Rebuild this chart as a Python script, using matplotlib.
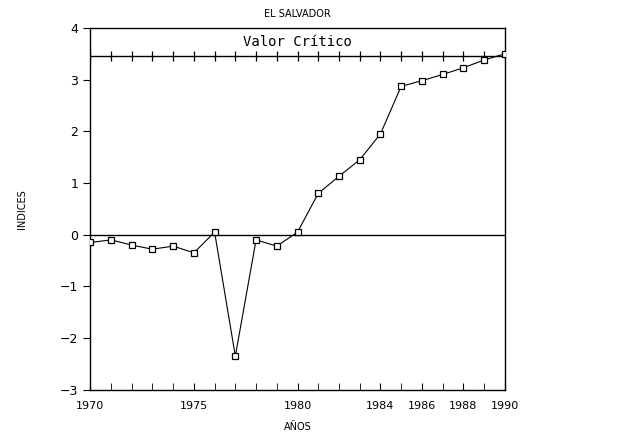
import matplotlib.pyplot as plt
import numpy as np

years = np.arange(1970, 1991)
indices = [-0.15, -0.1, -0.2, -0.28, -0.22, -0.35, 0.05, -2.35, -0.1, -0.22,
           0.05, 0.8, 1.13, 1.45, 1.95, 2.87, 2.98, 3.1, 3.23, 3.38, 3.5]
valor_critico = 3.45
xlabels = [1970, 1975, 1980, 1984, 1986, 1988, 1990]

fig = plt.figure(figsize=(6.31, 4.37), dpi=100)
ax = fig.add_axes([0.143, 0.108, 0.657, 0.828])

ax.plot(years, indices, color='black', lw=0.8, marker='s', ms=4.5,
        mfc='white', mec='black', mew=0.9, zorder=3)
ax.axhline(0, color='black', lw=1.0)
ax.axhline(valor_critico, color='black', lw=1.0)
# marcas sobre la linea del valor critico
ax.plot(years, [valor_critico] * len(years), ls='none', marker='|', ms=7,
        color='black', mew=0.9)
ax.text(1980, 3.72, 'Valor Crítico', family='DejaVu Sans Mono', fontsize=10,
        ha='center', va='center')

ax.set_xlim(1970, 1990)
ax.set_ylim(-3, 4)
ax.set_xticks(years, minor=True)
ax.set_xticks(xlabels)
ax.set_xticklabels([str(v) for v in xlabels], fontsize=8)
ax.set_yticks(range(-3, 5))
ax.set_yticklabels(['\u22123', '\u22122', '\u22121', '0', '1', '2', '3', '4'], fontsize=9)
ax.tick_params(axis='x', which='both', direction='in', length=5, pad=8)
ax.tick_params(axis='y', direction='out', length=5)
for s in ax.spines.values():
    s.set_linewidth(1.0)

ax.set_title('EL SALVADOR', fontsize=7, pad=8)
ax.set_xlabel('AÑOS', fontsize=7, labelpad=8)
ax.set_ylabel('INDICES', fontsize=7, labelpad=24)

fig.savefig('out.png', dpi=100)
